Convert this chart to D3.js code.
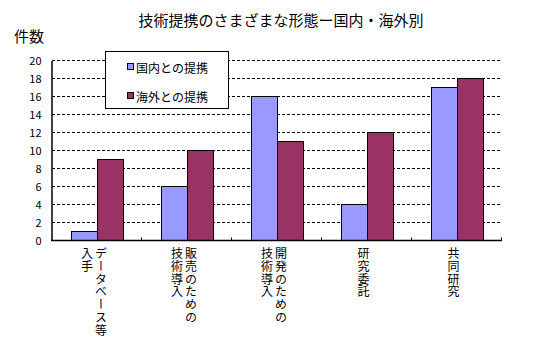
<!DOCTYPE html>
<html><head><meta charset="utf-8">
<script src="https://cdn.jsdelivr.net/npm/d3@7"></script>
<style>body{margin:0;background:#fff}svg{display:block}</style>
</head><body>
<svg id="c" width="559" height="350"></svg>
<script>
const categories = ["データベース等入手","販売のための技術導入","開発のための技術導入","研究委託","共同研究"];
const labelColumns = [["データベース等","入手"],["販売のための","技術導入"],["開発のための","技術導入"],["研究委託"],["共同研究"]];
const seriesNames = ["国内との提携","海外との提携"];
const domestic = [1, 6, 16, 4, 17];
const overseas = [9, 10, 11, 12, 18];
const yTicks = [0,2,4,6,8,10,12,14,16,18,20];
const colors = ["#9999FF","#993366"];
const title = "技術提携のさまざまな形態ー国内・海外別";
const yTitle = "件数";

const svg = d3.select("#c");
const jp = "'Noto Sans CJK JP', sans-serif";
const L = 52, R = 502, T = 60, B = 240;
const x0 = d3.scaleBand().domain(categories).range([L, R]).padding(0);
const groupW = 52;
const x1 = d3.scaleBand().domain(seriesNames).range([0, groupW]);
const y = d3.scaleLinear().domain([0, 20]).range([B, T]);

// title
svg.append("text").attr("x", 281).attr("y", 26).attr("text-anchor","middle")
  .attr("font-family", jp).attr("font-size", 15).attr("fill","#000").text(title);
svg.append("text").attr("x", 14).attr("y", 42)
  .attr("font-family", jp).attr("font-size", 15).attr("fill","#000").text(yTitle);

// gridlines
svg.append("g").selectAll("line").data(yTicks.filter(d => d > 0)).join("line")
  .attr("x1", L).attr("x2", R - 1).attr("y1", d => Math.round(y(d)) + 0.5).attr("y2", d => Math.round(y(d)) + 0.5)
  .attr("stroke", "#000").attr("stroke-width", 1).attr("stroke-dasharray", "3,2");

// y axis
const ya = svg.append("g").attr("transform", `translate(${L - 0.5},0.5)`)
  .call(d3.axisLeft(y).tickValues(yTicks).tickSize(0).tickPadding(10));
ya.select(".domain").attr("stroke","#000").attr("stroke-width",1.5);
ya.selectAll("text").attr("font-family", jp).attr("font-size", 11).attr("fill","#000");

// bars
const data = categories.map((c, i) => ({c, vals: [domestic[i], overseas[i]]}));
const g = svg.append("g");
data.forEach(d => {
  d.vals.forEach((v, j) => {
    const xs = x0(d.c) + (x0.bandwidth() - groupW) / 2 + x1(seriesNames[j]);
    g.append("rect").attr("x", Math.round(xs) + 0.5).attr("y", Math.round(y(v)) + 0.5)
      .attr("width", x1.bandwidth()).attr("height", B - Math.round(y(v)))
      .attr("fill", colors[j]).attr("stroke", "#000").attr("stroke-width", 1);
  });
});

// x axis
const xa = svg.append("g").attr("transform", `translate(0,${B + 0.5})`);
xa.append("line").attr("x1", L - 1).attr("x2", R).attr("stroke","#000").attr("stroke-width",1.5);
const bounds = categories.map(c => x0(c)).concat([R]);
xa.selectAll("line.t").data(bounds.slice(1)).join("line").attr("class","t")
  .attr("x1", d => Math.round(d) - 0.5).attr("x2", d => Math.round(d) - 0.5).attr("y1", 0).attr("y2", -3)
  .attr("stroke","#000").attr("stroke-width",1);

// vertical category labels
labelColumns.forEach((cols, i) => {
  const cx = x0(categories[i]) + x0.bandwidth() / 2;
  const n = cols.length;
  cols.forEach((col, k) => {
    const colX = n === 1 ? cx - 3.5 : (k === 0 ? cx + 4 : cx - 10);
    svg.append("text").attr("x", colX).attr("y", 247.5)
      .style("writing-mode", "vertical-rl")
      .attr("letter-spacing", 0.8)
      .attr("font-family", jp).attr("font-size", 12).attr("fill","#000").text(col);
  });
});

// legend
const lg = svg.append("g");
lg.append("rect").attr("x", 105.5).attr("y", 51.5).attr("width", 123).attr("height", 57)
  .attr("fill","#fff").attr("stroke","#000").attr("stroke-width",1);
seriesNames.forEach((s, j) => {
  const cy = 67 + j * 29;
  lg.append("rect").attr("x", 127.5).attr("y", cy - 3.5).attr("width", 6).attr("height", 6)
    .attr("fill", colors[j]).attr("stroke","#000").attr("stroke-width",1);
  lg.append("text").attr("x", 136).attr("y", cy).attr("dominant-baseline","central")
    .attr("font-family", jp).attr("font-size", 12).attr("fill","#000").text(s);
});
</script>
</body></html>
